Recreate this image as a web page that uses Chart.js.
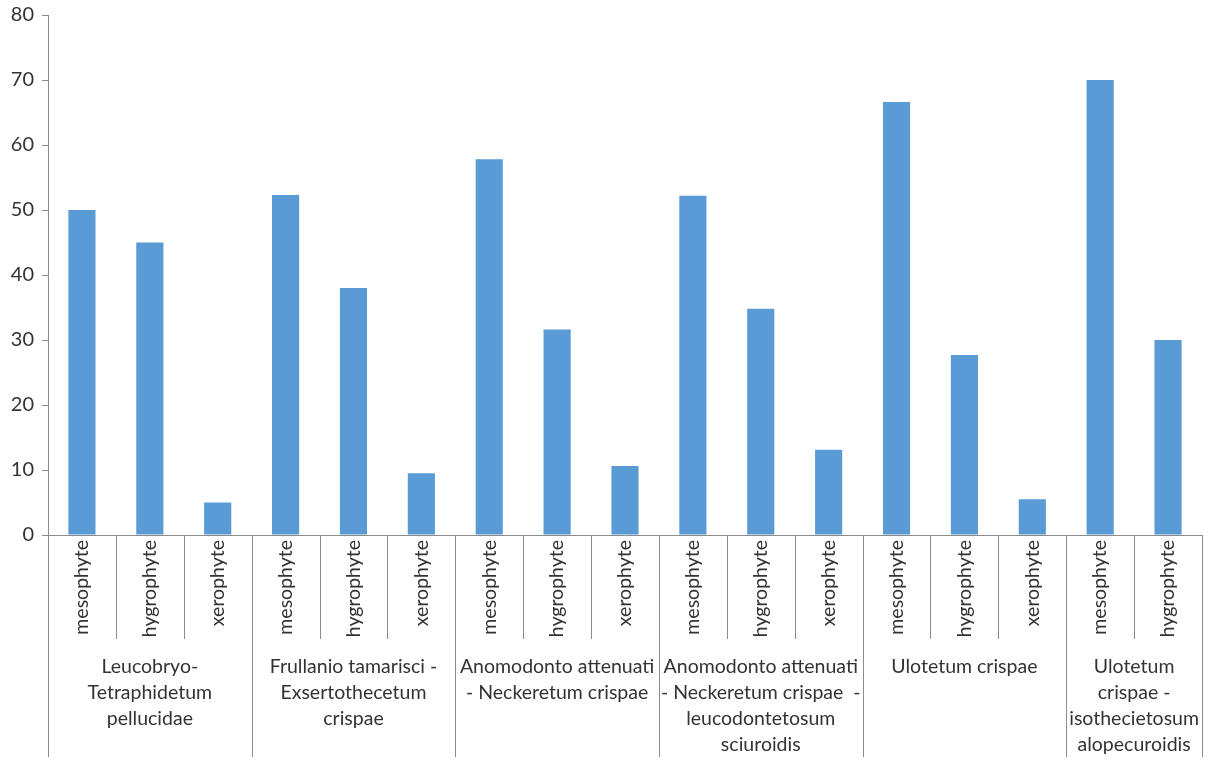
<!DOCTYPE html>
<html>
<head>
<meta charset="utf-8">
<script src="https://cdn.jsdelivr.net/npm/chart.js@4/dist/chart.umd.min.js"></script>
<style>
  html, body { margin: 0; padding: 0; background: #ffffff; }
  #wrap { width: 1210px; height: 760px; position: relative; }
</style>
</head>
<body>
<div id="wrap"><canvas id="c" width="1210" height="760"></canvas></div>
<script>
const categories = [
  "mesophyte", "hygrophyte", "xerophyte",
  "mesophyte", "hygrophyte", "xerophyte",
  "mesophyte", "hygrophyte", "xerophyte",
  "mesophyte", "hygrophyte", "xerophyte",
  "mesophyte", "hygrophyte", "xerophyte",
  "mesophyte", "hygrophyte"
];
const values = [
  50.0, 45.0, 5.0,
  52.3, 38.0, 9.5,
  57.8, 31.6, 10.6,
  52.2, 34.8, 13.1,
  66.6, 27.7, 5.5,
  70.0, 30.0
];
const groupLabels = [
  ["Leucobryo-", "Tetraphidetum", "pellucidae"],
  ["Frullanio tamarisci -", "Exsertothecetum", "crispae"],
  ["Anomodonto attenuati", "- Neckeretum crispae"],
  ["Anomodonto attenuati", "- Neckeretum crispae  -", "leucodontetosum", "sciuroidis"],
  ["Ulotetum crispae"],
  ["Ulotetum", "crispae -", "isothecietosum", "alopecuroidis"]
];
const groupSizes = [3, 3, 3, 3, 3, 2];
const yTicks = [0, 10, 20, 30, 40, 50, 60, 70, 80];

const FONT = "Lato, 'Open Sans', 'Liberation Sans', sans-serif";
const TEXT = "#333333";
const LINE = "#8c8c8c";

const groupPlugin = {
  id: "groupAxis",
  afterDraw(chart) {
    const ctx = chart.ctx;
    const xs = chart.scales.x;
    const area = chart.chartArea;
    const half = (xs.getPixelForValue(1) - xs.getPixelForValue(0)) / 2;
    const y0 = area.bottom;
    const innerBottom = y0 + 104;
    const outerBottom = y0 + 222;
    ctx.save();
    ctx.strokeStyle = LINE;
    ctx.lineWidth = 1;
    let idx = 0;
    const bounds = [];
    groupSizes.forEach((n) => {
      const start = xs.getPixelForValue(idx) - half;
      const end = xs.getPixelForValue(idx + n - 1) + half;
      bounds.push([start, end]);
      for (let k = 1; k < n; k++) {
        const x = Math.round(xs.getPixelForValue(idx + k) - half) + 0.5;
        ctx.beginPath(); ctx.moveTo(x, y0); ctx.lineTo(x, innerBottom); ctx.stroke();
      }
      idx += n;
    });
    const edges = [bounds[0][0]].concat(bounds.map(b => b[1]));
    edges.forEach((e) => {
      const x = Math.round(e) + 0.5;
      ctx.beginPath(); ctx.moveTo(x, y0); ctx.lineTo(x, outerBottom); ctx.stroke();
    });
    ctx.fillStyle = TEXT;
    ctx.font = "19.5px " + FONT;
    ctx.textAlign = "center";
    ctx.textBaseline = "middle";
    groupLabels.forEach((lines, g) => {
      const cx = (bounds[g][0] + bounds[g][1]) / 2;
      lines.forEach((t, j) => {
        ctx.fillText(t, cx, y0 + 132 + j * 26);
      });
    });
    ctx.restore();
  }
};

new Chart(document.getElementById("c"), {
  type: "bar",
  data: {
    labels: categories,
    datasets: [{
      data: values,
      backgroundColor: "#5B9BD5",
      borderWidth: 0,
      barPercentage: 0.4,
      categoryPercentage: 1.0
    }]
  },
  options: {
    responsive: false,
    animation: false,
    layout: { padding: { top: 15, right: 8, left: 0, bottom: 0 } },
    plugins: { legend: { display: false }, tooltip: { enabled: false } },
    scales: {
      x: {
        grid: { display: false, drawTicks: false },
        border: { display: true, color: LINE, width: 1 },
        ticks: {
          color: TEXT,
          font: { family: FONT, size: 19.5 },
          minRotation: 90, maxRotation: 90,
          padding: 5,
          autoSkip: false
        },
        afterFit(scale) { scale.height = 225; scale.paddingLeft = 0; scale.paddingRight = 0; }
      },
      y: {
        min: 0, max: 80,
        afterBuildTicks(scale) { scale.ticks = yTicks.map(v => ({ value: v })); },
        grid: { drawOnChartArea: false, drawTicks: true, tickLength: 6, color: LINE },
        border: { display: true, color: LINE, width: 1 },
        ticks: {
          color: TEXT,
          font: { family: FONT, size: 20 },
          padding: 8
        },
        afterFit(scale) { scale.width = 48; scale.paddingTop = 0; scale.paddingBottom = 0; }
      }
    }
  },
  plugins: [groupPlugin]
});
</script>
</body>
</html>
